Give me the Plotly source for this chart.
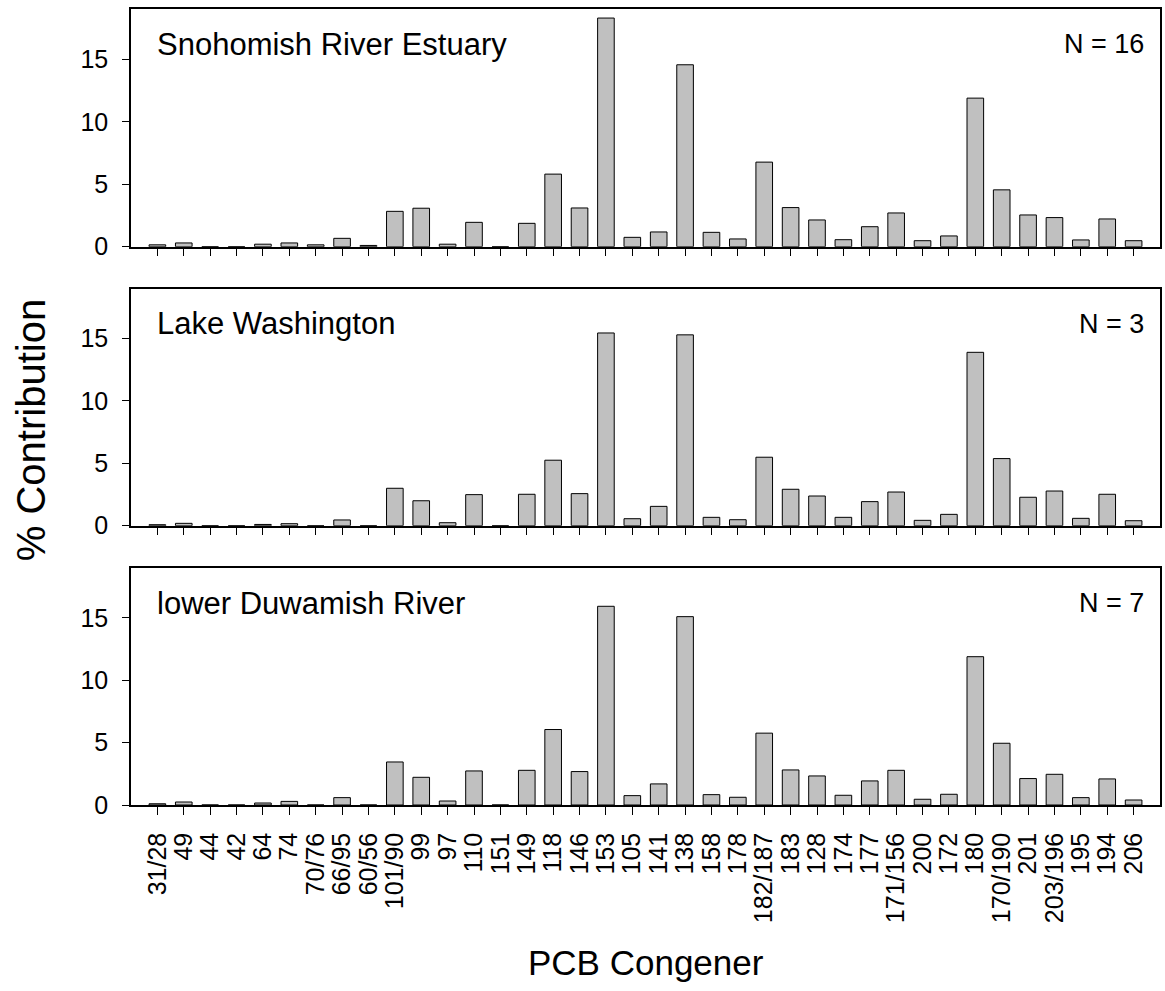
import plotly.graph_objects as go

congeners = ["31/28", "49", "44", "42", "64", "74", "70/76", "66/95", "60/56",
             "101/90", "99", "97", "110", "151", "149", "118", "146", "153",
             "105", "141", "138", "158", "178", "182/187", "183", "128", "174",
             "177", "171/156", "200", "172", "180", "170/190", "201", "203/196",
             "195", "194", "206"]

snohomish = [0.15, 0.3, 0, 0, 0.2, 0.3, 0.15, 0.67, 0.1, 2.83, 3.08, 0.2, 1.95,
             0, 1.87, 5.81, 3.1, 18.3, 0.75, 1.18, 14.56, 1.15, 0.62, 6.77, 3.13,
             2.14, 0.56, 1.6, 2.7, 0.48, 0.86, 11.89, 4.55, 2.54, 2.33, 0.54,
             2.22, 0.48]

lake_washington = [0.08, 0.19, 0, 0, 0.1, 0.16, 0, 0.46, 0, 3.0, 2.0, 0.24, 2.49,
                   0, 2.52, 5.25, 2.57, 15.45, 0.56, 1.55, 15.3, 0.67, 0.48, 5.49,
                   2.92, 2.38, 0.67, 1.93, 2.7, 0.43, 0.91, 13.9, 5.38, 2.28, 2.78,
                   0.59, 2.52, 0.4]

duwamish = [0.1, 0.24, 0, 0, 0.16, 0.29, 0, 0.59, 0, 3.45, 2.22, 0.32, 2.73,
            0, 2.78, 6.05, 2.68, 15.93, 0.75, 1.69, 15.1, 0.83, 0.62, 5.76, 2.81,
            2.33, 0.78, 1.93, 2.78, 0.46, 0.86, 11.89, 4.95, 2.12, 2.46, 0.59,
            2.09, 0.4]

site_names = ["Snohomish River Estuary", "Lake Washington", "lower Duwamish River"]
sample_counts = ["N = 16", "N = 3", "N = 7"]
series = [snohomish, lake_washington, duwamish]

y_ticks = [0, 5, 10, 15]

FONT = "Arial, Liberation Sans, sans-serif"
W, H = 1165, 991
ML, MR, MT, MB = 131, 3, 9, 186
plot_h = H - MT - MB
plot_w = W - ML - MR

# panel vertical extents in pixels from top of page (top, bottom)
panels_px = [(9.3, 246.7), (288.7, 525.7), (568.0, 805.0)]


def to_paper_y(px):
    return (H - MB - px) / plot_h


def to_paper_x(px):
    return (px - ML) / plot_w


xpos = list(range(len(congeners)))

fig = go.Figure()
layout = dict(
    width=W, height=H,
    margin=dict(l=ML, r=MR, t=MT, b=MB),
    paper_bgcolor="white", plot_bgcolor="white",
    showlegend=False,
    font=dict(family=FONT, color="black"),
)

annotations = []
for i, (vals, name, count) in enumerate(zip(series, site_names, sample_counts)):
    n = i + 1
    xa = "x" if n == 1 else f"x{n}"
    ya = "y" if n == 1 else f"y{n}"
    fig.add_trace(go.Bar(
        x=xpos, y=vals, xaxis=xa, yaxis=ya,
        marker=dict(color="#c0c0c0", line=dict(color="black", width=1)),
        width=0.63,
    ))
    top_px, bot_px = panels_px[i]
    dom = [to_paper_y(bot_px), to_paper_y(top_px)]
    last = (n == 3)
    layout[f"xaxis{'' if n == 1 else n}"] = dict(
        domain=[0, 1], anchor=ya, range=[-1, 38],
        tickmode="array", tickvals=xpos,
        ticktext=congeners if last else [""] * len(congeners),
        showticklabels=last, tickangle=-90, ticklabelstandoff=8,
        ticks="outside", ticklen=8, tickwidth=1, tickcolor="black",
        showline=True, linecolor="black", linewidth=1.5, mirror=True,
        showgrid=False, zeroline=False,
        tickfont=dict(size=25, family=FONT, color="black"),
    )
    layout[f"yaxis{'' if n == 1 else n}"] = dict(
        domain=dom, anchor=xa, range=[0, 19],
        tickmode="array", tickvals=y_ticks, ticklabelstandoff=9,
        ticks="outside", ticklen=7, tickwidth=1, tickcolor="black",
        showline=True, linecolor="black", linewidth=1.5, mirror=True,
        showgrid=False, zeroline=False,
        tickfont=dict(size=25, family=FONT, color="black"),
    )
    label_y = to_paper_y(top_px + 35)
    annotations.append(dict(
        text=name, xref="paper", yref="paper",
        x=to_paper_x(155), y=label_y,
        xanchor="left", yanchor="middle", showarrow=False,
        font=dict(size=31, family=FONT, color="black"),
    ))
    annotations.append(dict(
        text=count, xref="paper", yref="paper",
        x=to_paper_x(1148), y=label_y,
        xanchor="right", yanchor="middle", showarrow=False,
        font=dict(size=27, family=FONT, color="black"),
    ))

# axis titles
annotations.append(dict(
    text="% Contribution", xref="paper", yref="paper",
    x=to_paper_x(31), y=to_paper_y(430),
    xanchor="center", yanchor="middle", textangle=-90, showarrow=False,
    font=dict(size=40, family=FONT, color="black"),
))
annotations.append(dict(
    text="PCB Congener", xref="paper", yref="paper",
    x=0.5, y=to_paper_y(962),
    xanchor="center", yanchor="middle", showarrow=False,
    font=dict(size=35, family=FONT, color="black"),
))

layout["annotations"] = annotations
fig.update_layout(**layout)
fig.write_html("out.html")
